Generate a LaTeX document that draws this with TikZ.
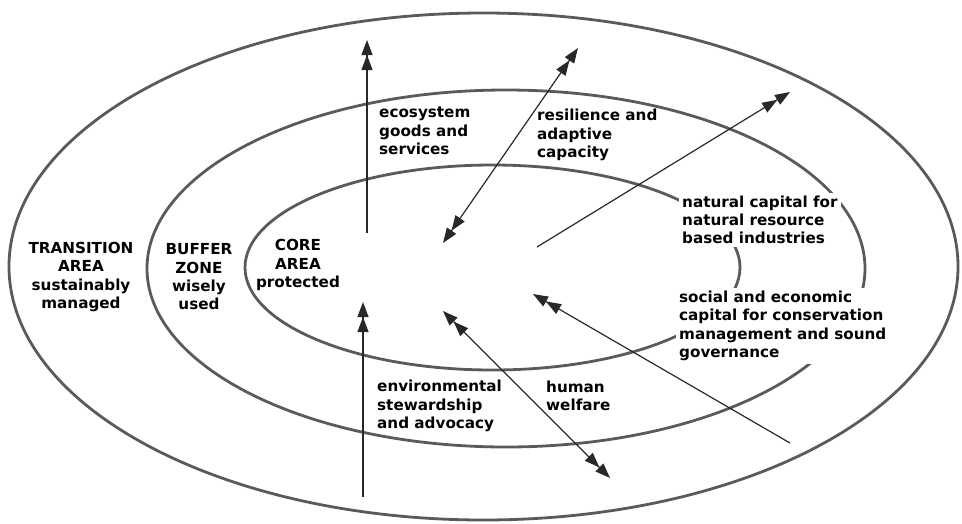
\documentclass[tikz,border=0pt]{standalone}
\usepackage{fontspec}
\setmainfont{DejaVu Sans}
\usetikzlibrary{arrows.meta}

\definecolor{ringgray}{RGB}{90,90,90}
\definecolor{arrowgray}{RGB}{40,40,40}

\tikzset{
  ring/.style={draw=ringgray, line width=2.8pt},
  zonetext/.style={font=\bfseries\fontsize{15.2}{18.3}\selectfont, align=center, inner sep=3pt},
  sidetext/.style={font=\bfseries\fontsize{15.2}{18.3}\selectfont, align=left, anchor=west, inner sep=3pt},
  covered/.style={sidetext, fill=white},
  dtip/.tip={Triangle[length=15pt,width=11pt] Triangle[length=15pt,width=11pt]},
  flow/.style={draw=arrowgray, line width=1.2pt, -{dtip}},
  flowboth/.style={draw=arrowgray, line width=1.2pt, {dtip}-{dtip}},
}

\begin{document}
\begin{tikzpicture}[x=1pt,y=-1pt]

    \useasboundingbox (0,0) rectangle (962,523);

    % Rings

    \draw[ring] (483.5,266.5) ellipse [x radius=474.5pt, y radius=253.5pt]; %
    \draw[ring] (506,268.5)   ellipse [x radius=359pt,   y radius=178.5pt]; %
    \draw[ring] (492.5,267.5) ellipse [x radius=247.5pt, y radius=102.5pt]; %

    % Zone names

    \node[zonetext] (transition) at (81,277)  {TRANSITION\\AREA\\sustainably\\managed}; %
    \node[zonetext] (buffer)     at (199,277) {BUFFER\\ZONE\\wisely\\used}; %
    \node[zonetext] (core)       at (298,265) {CORE\\AREA\\protected}; %

    % Flow texts

    \node[sidetext] (goods)   at (376,131) {ecosystem\\goods and\\services}; %
    \node[sidetext] (resil)   at (534,135) {resilience and\\adaptive\\capacity}; %
    \node[covered]  (natcap)  at (679,220) {natural capital for\\natural resource\\based industries}; %
    \node[covered]  (soccap)  at (676,326) {social and economic\\capital for conservation\\management and sound\\governance}; %
    \node[sidetext] (steward) at (374,406) {environmental\\stewardship\\and advocacy}; %
    \node[sidetext] (welfare) at (543,396) {human\\welfare}; %

    % Arrow ends

    \coordinate (goods-a)   at (367,233); %
    \coordinate (goods-b)   at (367,40); %
    \coordinate (resil-a)   at (443,243); %
    \coordinate (resil-b)   at (578,48); %
    \coordinate (natcap-a)  at (537,247); %
    \coordinate (natcap-b)  at (790,92); %
    \coordinate (steward-a) at (363,497); %
    \coordinate (steward-b) at (363,302); %
    \coordinate (welfare-a) at (443,311); %
    \coordinate (welfare-b) at (610,478); %
    \coordinate (soccap-a)  at (790,443); %
    \coordinate (soccap-b)  at (533,294); %

    % Arrows

    \draw[flow]     (goods-a)   -- (goods-b); %
    \draw[flowboth] (resil-a)   -- (resil-b); %
    \draw[flow]     (natcap-a)  -- (natcap-b); %
    \draw[flow]     (steward-a) -- (steward-b); %
    \draw[flowboth] (welfare-a) -- (welfare-b); %
    \draw[flow]     (soccap-a)  -- (soccap-b); %

\end{tikzpicture}
\end{document}
